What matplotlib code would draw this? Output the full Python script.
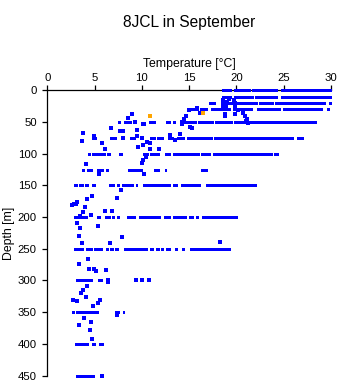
import matplotlib
matplotlib.use("Agg")
import matplotlib.pyplot as plt

plt.rcParams['font.family'] = ['Liberation Sans', 'DejaVu Sans']

title = "8JCL in September"
xlabel = "Temperature [°C]"
ylabel = "Depth [m]"
x_ticks = [0, 5, 10, 15, 20, 25, 30]
y_ticks = [0, 50, 100, 150, 200, 250, 300, 350, 400, 450]

# Dense runs of observations at standard depths: (depth, t_min, t_max)
seg_depth = [0, 0, 0, 0,
             10, 10, 10, 10,
             20, 20, 20, 20, 20,
             30, 30, 30, 30, 30, 30, 30,
             50, 50, 50, 50, 50, 50, 50, 50, 50, 50,
             75, 75, 75, 75, 75, 75, 75, 75, 75, 75, 75, 75, 75,
             100, 100, 100, 100, 100, 100, 100, 100, 100, 100, 100,
             125, 125, 125, 125, 125, 125, 125, 125,
             150, 150, 150, 150, 150, 150, 150, 150, 150, 150, 150, 150, 150,
             200, 200, 200, 200, 200, 200, 200, 200, 200, 200, 200, 200,
             250, 250, 250, 250, 250, 250, 250, 250, 250, 250, 250, 250, 250, 250,
             300, 300,
             350, 350, 350, 350,
             400, 400, 400,
             450]
seg_tmin = [18.5, 19.7, 21.6, 24.7,
            18.5, 19.7, 22.0, 24.7,
            17.1, 18.4, 22.4, 24.1, 29.8,
            15.0, 16.2, 17.3, 19.6, 22.2, 24.9, 29.6,
            7.45, 8.15, 10.8, 12.6, 13.3, 14.0, 15.9, 17.7, 19.7, 23.0,
            4.94, 6.6, 8.75, 10.9, 11.6, 12.8, 13.7, 14.75, 15.3, 17.6, 18.6, 19.15, 26.4,
            4.27, 4.76, 6.3, 7.6, 10.16, 10.87, 12.45, 13.3, 16.26, 17.57, 24.0,
            3.64, 4.23, 5.3, 6.2, 8.54, 11.3, 12.4, 16.26,
            2.86, 3.35, 3.99, 4.7, 6.53, 7.34, 7.87, 9.35, 10.1, 13.3, 14.1, 16.76, 21.8,
            2.86, 5.3, 6.14, 6.88, 7.34, 8.47, 9.67, 12.35, 13.33, 15.03, 15.73, 16.4,
            2.86, 4.06, 4.97, 6.21, 6.67, 7.13, 8.12, 10.87, 11.5, 12.03, 12.53, 13.5, 14.2, 15.1,
            3.0, 5.4,
            2.61, 3.04, 7.16, 7.98,
            2.93, 4.7, 5.47,
            3.04]
seg_tmax = [19.4, 21.4, 24.3, 30.0,
            19.4, 21.8, 24.3, 30.0,
            17.7, 22.2, 23.9, 29.4, 30.0,
            15.9, 16.9, 19.3, 21.6, 24.6, 29.0, 29.8,
            7.7, 8.9, 11.4, 13.0, 13.5, 15.7, 17.5, 19.5, 22.9, 28.4,
            5.2, 7.3, 9.3, 11.4, 12.2, 13.3, 14.5, 15.2, 17.4, 18.5, 19.0, 26.0, 27.0,
            4.5, 6.1, 6.6, 7.9, 10.7, 11.8, 13.0, 16.05, 17.2, 23.75, 24.4,
            3.92, 4.7, 5.9, 6.45, 10.0, 11.85, 12.56, 16.87,
            3.11, 3.74, 4.27, 5.05, 7.06, 7.62, 9.03, 9.53, 12.98, 13.7, 16.16, 21.6, 22.08,
            4.17, 5.58, 6.63, 7.06, 7.55, 9.28, 11.93, 12.98, 14.68, 15.45, 15.98, 20.04,
            3.81, 4.7, 5.76, 6.45, 6.92, 7.45, 10.52, 11.15, 11.85, 12.27, 12.98, 13.76, 14.47, 19.33,
            4.7, 5.76,
            2.86, 5.4, 7.62, 8.15,
            4.27, 5.05, 5.93,
            4.94]

# Individual observations (temperature, depth)
pt_temp = [18.6, 19.0, 18.6, 18.9, 19.7, 19.8, 19.8, 19.2, 18.9,
           8.93, 8.57, 14.7, 14.5, 14.2, 14.2, 15.8, 16.1, 18.8, 18.8, 19.8,
           20.7, 20.9, 21.1, 21.2, 20.2, 15.0, 10.2, 21.0, 15.1,
           6.74, 3.81, 7.7, 8.04, 9.52, 10.16, 9.46, 4.97, 4.97, 13.0, 14.04, 15.3,
           3.7, 5.82, 6.14, 9.63, 10.16, 10.58, 10.87, 10.87, 11.86, 13.55,
           4.13, 5.5, 9.99, 10.16, 10.44, 10.27,
           7.8, 7.34, 4.77, 4.23, 3.17, 2.6, 2.8, 3.0, 4.02, 3.81, 6.14, 6.88, 4.62, 3.46,
           3.17, 3.46, 5.37, 3.35, 3.7, 6.63, 7.94, 18.3,
           4.34, 3.39, 4.44, 4.94, 5.12, 6.24,
           6.45, 4.23, 3.81, 3.6, 4.13, 2.75, 3.14, 5.58, 5.37, 4.87,
           7.4, 3.92, 4.62, 3.35, 4.52, 4.77,
           9.3, 8.04, 10.0, 9.35, 10.05, 10.8, 5.82, 6.45]
pt_depth = [15, 18, 24, 27, 15, 20, 25, 13.7, 28,
            37.9, 43.2, 40.5, 45.8, 49.5, 53.6, 28, 35.8, 37, 40, 37.4,
            36, 40.5, 45, 51, 31, 31, 52.6, 48, 58,
            60, 67.9, 64, 65, 63, 53, 72, 72, 75, 70.5, 69.4, 60,
            80, 83.6, 93, 90, 86, 81, 83.6, 93, 93, 78,
            115.7, 132.5, 114, 110, 105.7, 132.5,
            157, 170, 166, 172, 176.7, 181, 180, 180, 184.5, 192.4, 190, 190, 196, 198,
            210, 216.7, 214, 230, 241, 241, 232, 240,
            266, 274.5, 282.4, 282, 285, 284,
            303, 308.7, 315, 320, 326.5, 330.8, 333, 330.8, 336, 341,
            354, 359.6, 366, 371, 378, 392.7,
            50, 75, 75, 300, 300, 300, 450, 300]

# Flagged observations (orange)
flag_temp = [10.87, 16.5]
flag_depth = [40.5, 36.3]

W, H = 341, 384
fig = plt.figure(figsize=(W / 100, H / 100), dpi=100)
ax = fig.add_axes([47.3 / W, 8.5 / H, (331 - 47.3) / W, (375.5 - 90.3) / H])

blue = '#0000ff'
ax.hlines(seg_depth, seg_tmin, seg_tmax, colors=blue, linewidth=1.9,
          antialiased=False, clip_on=False, zorder=3)
ax.plot(pt_temp, pt_depth, 's', color=blue, ms=2.2, mew=0, antialiased=False,
        clip_on=False, zorder=3)
ax.plot(flag_temp, flag_depth, 's', color='#ffa500', ms=2.2, mew=0, antialiased=False,
        clip_on=False, zorder=4)

ax.set_xlim(0, 30)
ax.set_ylim(450, 0)
ax.set_xticks(x_ticks)
ax.set_yticks(y_ticks)
ax.xaxis.tick_top()
ax.xaxis.set_label_position('top')
for s in ['right', 'bottom']:
    ax.spines[s].set_visible(False)
for s in ['top', 'left']:
    ax.spines[s].set_linewidth(0.9)
ax.tick_params(axis='both', direction='out', length=3.6, width=0.9, labelsize=8.2, colors='black')
ax.tick_params(axis='x', pad=2)
ax.tick_params(axis='y', pad=4)
ax.set_xlabel(xlabel, fontsize=8.8, labelpad=4)
ax.set_ylabel(ylabel, fontsize=8.8, labelpad=2)
fig.text(189 / W, 1 - 22 / H, title, ha='center', va='center', fontsize=11.2)

fig.savefig('out.png', dpi=100)
